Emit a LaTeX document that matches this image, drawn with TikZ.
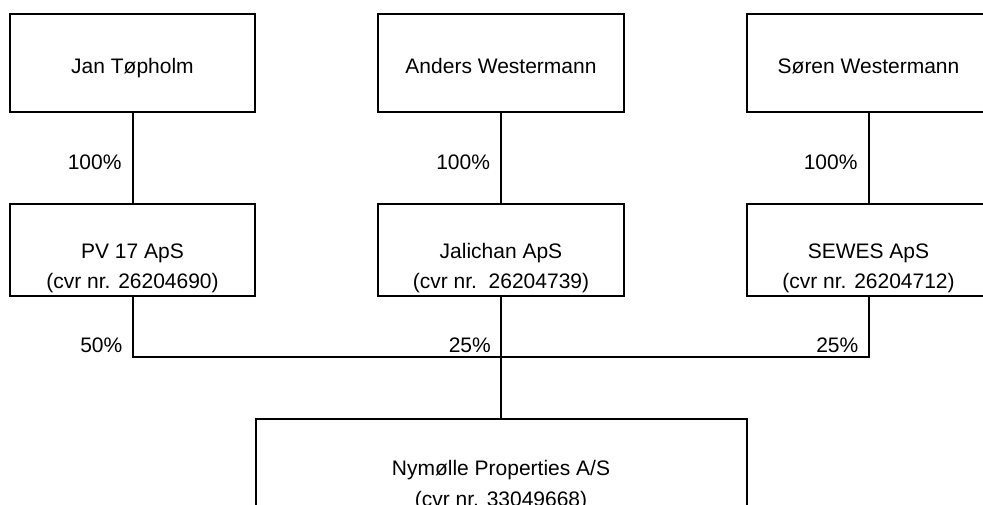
\documentclass[tikz,border=0pt]{standalone}
\usepackage{fontspec}
\setmainfont{Liberation Sans}
\begin{document}
\begin{tikzpicture}[x=1pt, y=-1pt,
  box/.style={draw, line width=2pt, minimum width=245pt, inner sep=0pt},
  txt/.style={font=\fontsize{21}{31}\selectfont, align=center, anchor=base, inner sep=0pt},
  link/.style={line width=2pt},
  pct/.style={font=\fontsize{21}{25}\selectfont, anchor=base east, inner sep=0pt, xshift=-10pt}
]
\useasboundingbox (0,0) rectangle (983,505);
\clip (0,0) rectangle (983,505);
% owners
\node[box, minimum height=98pt] (jan) at (132.5,63) {};
\node[box, minimum height=98pt, minimum width=246pt] (and) at (501,63) {};
\node[box, minimum height=98pt, minimum width=244pt] (sor) at (868.5,63) {};
\node[txt] (jant) at (132.5,74) {Jan Tøpholm};
\node[txt] (andt) at (501,74) {Anders Westermann};
\node[txt] (sort) at (868.5,74) {Søren Westermann};
% holding companies
\node[box, minimum height=92pt] (pv) at (132.5,250) {};
\node[box, minimum height=92pt, minimum width=246pt] (jal) at (501,250) {};
\node[box, minimum height=92pt, minimum width=244pt] (sew) at (868.5,250) {};
\node[txt] (pvt) at (132.5,289) {PV 17 ApS\\(cvr nr. 26204690)};
\node[txt] (jalt) at (501,289) {Jalichan ApS\\(cvr nr.~~26204739)};
\node[txt] (sewt) at (868.5,289) {SEWES ApS\\(cvr nr. 26204712)};
% owned company
\node[box, minimum height=112pt, minimum width=491pt] (nym) at (501,475) {};
\node[txt] (nymt) at (501,506.5) {Nymølle Properties A/S\\(cvr nr. 33049668)};
% ownership lines
\draw[link] (jan) -- node[pct, pos=0.63] (p1) {100\%} (pv);
\draw[link] (and) -- node[pct, pos=0.63] (p2) {100\%} (jal);
\draw[link] (sor) -- node[pct, pos=0.63] (p3) {100\%} (sew);
\coordinate (barL) at (132.5,357);
\coordinate (barR) at (868.5,357);
\draw[link] (pv) -- (barL) -- (barR) -- (sew);
\draw[link] (jal) -- (nym);
\node[pct, yshift=5pt] (p4) at (barL) {50\%};
\node[pct, yshift=5pt] (p5) at (jal |- barL) {25\%};
\node[pct, yshift=5pt] (p6) at (barR) {25\%};
\end{tikzpicture}
\end{document}
